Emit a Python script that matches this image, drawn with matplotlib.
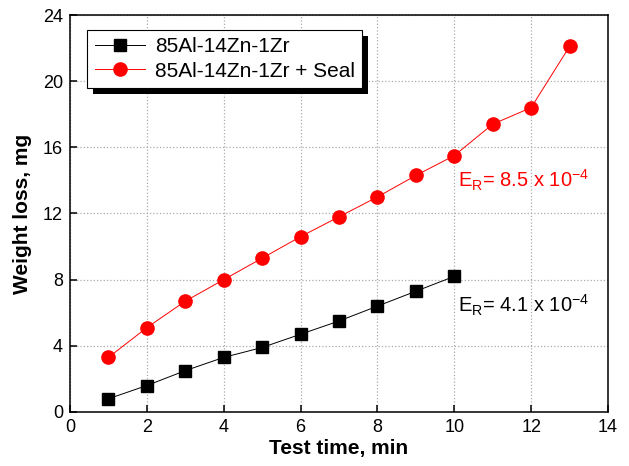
import matplotlib
matplotlib.use("Agg")
import matplotlib.pyplot as plt
import matplotlib.patheffects as pe

plt.rcParams['font.family'] = ['Liberation Sans', 'DejaVu Sans']

# data
time_plain = [1, 2, 3, 4, 5, 6, 7, 8, 9, 10]
loss_plain = [0.8, 1.6, 2.5, 3.3, 3.9, 4.7, 5.5, 6.4, 7.3, 8.2]
time_seal = [1, 2, 3, 4, 5, 6, 7, 8, 9, 10, 11, 12, 13]
loss_seal = [3.3, 5.1, 6.7, 8.0, 9.3, 10.6, 11.8, 13.0, 14.3, 15.5, 17.4, 18.4, 22.1]
labels = ['85Al-14Zn-1Zr', '85Al-14Zn-1Zr + Seal']

fig = plt.figure(figsize=(6.29, 4.66), dpi=100)
ax = fig.add_axes([0.1113, 0.1159, 0.8553, 0.8519])

ax.plot(time_plain, loss_plain, color='black', lw=0.7, marker='s', ms=8,
        label=labels[0], zorder=3)
ax.plot(time_seal, loss_seal, color='red', lw=0.7, marker='o', ms=9.5,
        label=labels[1], zorder=3)

ax.set_xlim(0, 14)
ax.set_ylim(0, 24)
ax.set_xticks(range(0, 15, 2))
ax.set_yticks(range(0, 25, 4))
ax.grid(True, color='#aaaaaa', ls=':', lw=0.9)
ax.tick_params(direction='in', length=5, width=1.1, labelsize=13, pad=5)
for s in ax.spines.values():
    s.set_linewidth(1.1)

ax.set_xlabel('Test time, min', fontsize=15, fontweight='bold', labelpad=2)
ax.set_ylabel('Weight loss, mg', fontsize=15, fontweight='bold', labelpad=8)

ax.text(10.1, 14.0, r'E$_\mathregular{R}$= 8.5 x 10$^\mathregular{-4}$',
        color='red', fontsize=14.5, va='center', ha='left')
ax.text(10.1, 6.45, r'E$_\mathregular{R}$= 4.1 x 10$^\mathregular{-4}$',
        color='black', fontsize=14.5, va='center', ha='left')

leg = ax.legend(loc='upper left', bbox_to_anchor=(0.032, 0.962), borderaxespad=0,
                fontsize=15, fancybox=False, framealpha=1, edgecolor='black',
                handlelength=2.4, handletextpad=0.5, borderpad=0.35, labelspacing=0.25)
leg.get_frame().set_linewidth(0.8)
leg.get_frame().set_path_effects([
    pe.SimplePatchShadow(offset=(4.5, -4.5), shadow_rgbFace='black', alpha=1),
    pe.Normal()])

fig.savefig('out.png', dpi=100)
